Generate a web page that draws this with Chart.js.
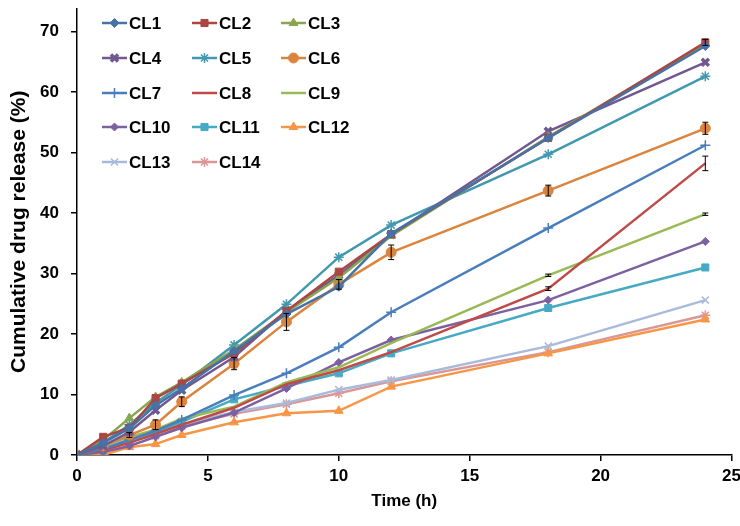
<!DOCTYPE html>
<html>
<head>
<meta charset="utf-8">
<script src="https://cdn.jsdelivr.net/npm/chart.js@4"></script>
<style>
html,body{margin:0;padding:0;background:#fff;}
#wrap{position:relative;width:740px;height:526px;}
</style>
</head>
<body>
<div id="wrap"><canvas id="c" width="740" height="526"></canvas></div>
<script>
const times = [0, 1, 2, 3, 4, 6, 8, 10, 12, 18, 24];
const yTicks = [0, 10, 20, 30, 40, 50, 60, 70];
const xTicks = [0, 5, 10, 15, 20, 25];
const names = ["CL1","CL2","CL3","CL4","CL5","CL6","CL7","CL8","CL9","CL10","CL11","CL12","CL13","CL14"];

const CL1  = [0, 2.0, 4.4, 8.2, 11.0, 17.2, 23.3, 27.8, 36.6, 52.4, 67.6];
const CL2  = [0, 3.0, 4.5, 9.4, 11.8, 16.8, 23.8, 30.3, 36.5, 52.4, 68.2];
const CL3  = [0, 2.5, 6.1, 9.6, 12.0, 17.4, 23.6, 29.3, 36.2, 52.6, 68.0];
const CL4  = [0, 1.5, 3.8, 7.4, 10.7, 16.2, 23.8, 29.7, 36.4, 53.5, 64.9];
const CL5  = [0, 2.0, 5.0, 8.6, 11.6, 18.2, 24.9, 32.7, 38.0, 49.7, 62.6];
const CL6  = [0, 1.5, 3.3, 5.0, 8.8, 15.1, 22.0, 28.2, 33.5, 43.7, 54.0];
const CL7  = [0, 1.0, 2.5, 4.0, 5.8, 9.9, 13.5, 17.8, 23.6, 37.5, 51.2];
const CL8  = [0, 0.8, 2.0, 3.5, 5.0, 7.8, 11.7, 14.0, 17.0, 27.5, 48.2];
const CL9  = [0, 1.5, 3.0, 4.2, 6.0, 8.0, 12.0, 14.5, 18.5, 29.7, 39.8];
const CL10 = [0, 0.5, 1.5, 3.0, 4.5, 7.0, 11.0, 15.3, 19.0, 25.6, 35.3];
const CL11 = [0, 0.8, 2.5, 3.8, 5.5, 9.2, 11.4, 13.5, 16.8, 24.3, 31.0];
const CL12 = [0, 0.0, 1.3, 1.8, 3.3, 5.4, 6.9, 7.3, 11.3, 16.8, 22.4];
const CL13 = [0, 1.5, 2.5, 3.5, 5.0, 7.1, 8.6, 10.8, 12.4, 18.0, 25.6];
const CL14 = [0, 1.2, 2.3, 3.2, 4.8, 6.8, 8.4, 10.2, 12.2, 17.0, 23.1];

const errCL6 = [0, 0, 0.4, 0.8, 0.8, 1.0, 1.4, 0.8, 1.2, 0.9, 1.0];
const errCL8 = [0, 0, 0, 0, 0, 0, 0, 0, 0, 0.3, 1.2];
const errCL2 = [0, 0, 0, 0, 0, 0, 0, 0, 0, 0, 0.5];
const errCL9 = [0, 0, 0, 0, 0, 0, 0, 0, 0, 0.2, 0.2];

const seriesValues = [CL1,CL2,CL3,CL4,CL5,CL6,CL7,CL8,CL9,CL10,CL11,CL12,CL13,CL14];
const seriesErrors = [null,errCL2,null,null,null,errCL6,null,errCL8,errCL9,null,null,null,null,null];

const styles = [
  {c:"#4572A7", p:"rectRot", r:4.5, bw:1},
  {c:"#AA4643", p:"rect", r:5, bw:1},
  {c:"#89A54E", p:"triangle", r:5, bw:1},
  {c:"#71588F", p:"crossRot", r:5, bw:3.5},
  {c:"#4198AF", p:"star", r:5, bw:1.5},
  {c:"#DB843D", p:"circle", r:5, bw:1},
  {c:"#4A7EBB", p:"cross", r:5, bw:1.5},
  {c:"#BE4B48", p:"circle", r:0, bw:0},
  {c:"#98B954", p:"circle", r:0, bw:0},
  {c:"#7D60A0", p:"rectRot", r:4, bw:1},
  {c:"#46AAC5", p:"rect", r:5, bw:1},
  {c:"#F79646", p:"triangle", r:5, bw:1},
  {c:"#A9BADB", p:"crossRot", r:5, bw:1.5},
  {c:"#D99795", p:"star", r:5, bw:1.5}
];

const datasets = names.map((n,i)=>({
  label: n,
  data: times.map((t,k)=>({x:t, y:seriesValues[i][k]})),
  borderColor: styles[i].c,
  backgroundColor: styles[i].c,
  pointBackgroundColor: styles[i].c,
  pointBorderColor: styles[i].c,
  pointStyle: styles[i].p,
  pointRadius: styles[i].r,
  pointBorderWidth: styles[i].bw,
  borderWidth: 2.5,
  tension: 0,
  fill: false
}));

const errorBarPlugin = {
  id: 'errbars',
  afterDatasetsDraw(chart){
    const ctx = chart.ctx, xs = chart.scales.x, ys = chart.scales.y;
    ctx.save();
    ctx.strokeStyle = '#000';
    ctx.lineWidth = 1;
    seriesErrors.forEach((errs,i)=>{
      if(!errs) return;
      errs.forEach((e,k)=>{
        if(!e) return;
        const px = xs.getPixelForValue(times[k]);
        const top = ys.getPixelForValue(seriesValues[i][k]+e);
        const bot = ys.getPixelForValue(seriesValues[i][k]-e);
        ctx.beginPath();
        ctx.moveTo(px, top); ctx.lineTo(px, bot);
        ctx.moveTo(px-3, top); ctx.lineTo(px+3, top);
        ctx.moveTo(px-3, bot); ctx.lineTo(px+3, bot);
        ctx.stroke();
      });
    });
    ctx.restore();
  }
};

const legendPlugin = {
  id: 'inlegend',
  afterDraw(chart){
    const ctx = chart.ctx, ca = chart.chartArea;
    const colX = [25, 115, 204];
    const rowY = [23, 58, 93, 127, 162];
    ctx.save();
    names.forEach((n,i)=>{
      const col = i % 3, row = Math.floor(i/3);
      const x0 = ca.left + colX[col], y0 = rowY[row];
      const s = styles[i];
      ctx.strokeStyle = s.c;
      ctx.lineWidth = 2.5;
      ctx.beginPath(); ctx.moveTo(x0, y0); ctx.lineTo(x0+25, y0); ctx.stroke();
      if (s.r > 0) {
        ctx.fillStyle = s.c;
        ctx.strokeStyle = s.c;
        ctx.lineWidth = s.bw;
        Chart.helpers.drawPoint(ctx, {pointStyle: s.p, radius: s.r, borderWidth: s.bw, rotation: 0}, x0+12.5, y0);
      }
      ctx.fillStyle = '#000';
      ctx.font = 'bold 17px "Liberation Sans", Arial, sans-serif';
      ctx.textBaseline = 'middle';
      ctx.textAlign = 'left';
      ctx.fillText(n, x0+27, y0+1);
    });
    ctx.restore();
  }
};

const tickFont = {family: '"Liberation Sans", Arial, sans-serif', size: 17, weight: 'bold'};
const yTitleFont = {family: '"Liberation Sans", Arial, sans-serif', size: 21, weight: 'bold'};

new Chart(document.getElementById('c'), {
  type: 'line',
  data: { datasets },
  options: {
    responsive: false,
    animation: false,
    devicePixelRatio: 1,
    layout: { padding: { top: 5, right: 0, left: 0, bottom: 0 } },
    plugins: { legend: { display: false }, tooltip: { enabled: false } },
    scales: {
      x: {
        type: 'linear', min: 0, max: 25,
        afterBuildTicks(s){ s.ticks = xTicks.map(v=>({value:v})); },
        afterFit(s){ s.height = 71; s.paddingLeft = 0; s.paddingRight = 8; },
        border: { display: true, color: '#000', width: 1.5 },
        grid: { drawOnChartArea: false, drawTicks: true, tickLength: 6, color: '#000', lineWidth: 1.5 },
        ticks: { color: '#000', font: tickFont, padding: 5, maxRotation: 0 },
        title: { display: true, text: 'Time (h)', color: '#000', font: tickFont, padding: {top: 4, bottom: 14} }
      },
      y: {
        type: 'linear', min: 0, max: 73.8,
        afterBuildTicks(s){ s.ticks = yTicks.map(v=>({value:v})); },
        afterFit(s){ s.width = 77; s.paddingTop = 0; s.paddingBottom = 0; },
        border: { display: true, color: '#000', width: 1.5 },
        grid: { drawOnChartArea: false, drawTicks: true, tickLength: 6, color: '#000', lineWidth: 1.5 },
        ticks: { color: '#000', font: tickFont, padding: 12 },
        title: { display: true, text: 'Cumulative drug release (%)', color: '#000', font: yTitleFont, padding: {top: 7, bottom: 4} }
      }
    }
  },
  plugins: [errorBarPlugin, legendPlugin]
});
</script>
</body>
</html>
